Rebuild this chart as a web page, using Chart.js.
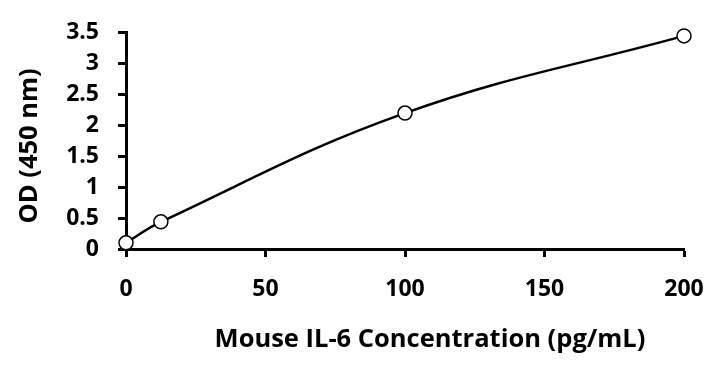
<!DOCTYPE html>
<html>
<head>
<meta charset="utf-8">
<script src="https://cdn.jsdelivr.net/npm/chart.js@4/dist/chart.umd.min.js"></script>
<style>
  html, body { margin: 0; padding: 0; background: #fff; }
  #wrap { position: relative; width: 725px; height: 366px; }
</style>
</head>
<body>
<div id="wrap"><canvas id="chart"></canvas></div>
<script>
// Standard curve
const concentrations = [0, 12.5, 100, 200];      // pg/mL
const odValues       = [0.1, 0.44, 2.2, 3.45];   // OD at 450 nm
const xTicks = [0, 50, 100, 150, 200];
const yTicks = [0, 0.5, 1, 1.5, 2, 2.5, 3, 3.5];
const X_TITLE = 'Mouse IL-6 Concentration (pg/mL)';
const Y_TITLE = 'OD (450 nm)';

const FONT = "'Open Sans', 'DejaVu Sans', sans-serif";

// axis titles drawn by hand: Excel puts the x title a bit right of the plot centre
const axisTitles = {
  id: 'axisTitles',
  afterDraw(chart) {
    const { ctx, chartArea: a } = chart;
    ctx.save();
    ctx.fillStyle = '#000';
    ctx.font = `bold 25.5px ${FONT}`;
    ctx.textAlign = 'center';
    ctx.textBaseline = 'middle';
    ctx.fillText(X_TITLE, (a.left + a.right) / 2 + 25, a.bottom + 91);
    ctx.translate(30, (a.top + a.bottom) / 2 + 5);
    ctx.rotate(-Math.PI / 2);
    ctx.fillText(Y_TITLE, 0, 0);
    ctx.restore();
  },
};

new Chart(document.getElementById('chart'), {
  type: 'scatter',
  data: {
    datasets: [{
      data: concentrations.map((x, i) => ({ x, y: odValues[i] })),
      showLine: true,
      borderColor: '#000',
      borderWidth: 2.5,
      tension: 0.4,
      pointRadius: 7,
      pointBackgroundColor: '#fff',
      pointBorderColor: '#000',
      pointBorderWidth: 1.5,
      clip: false,
    }],
  },
  options: {
    responsive: true,
    maintainAspectRatio: false,
    animation: false,
    layout: { padding: { left: 0, top: 31, right: 41, bottom: 0 } },
    plugins: { legend: { display: false }, tooltip: { enabled: false } },
    scales: {
      x: {
        type: 'linear',
        min: 0, max: 200,
        afterBuildTicks: (s) => { s.ticks = xTicks.map((v) => ({ value: v })); },
        afterFit: (s) => { s.height = 117; },
        border: { color: '#000', width: 3 },
        grid: { drawOnChartArea: false, drawTicks: true, tickLength: 8, tickWidth: 3, color: '#000' },
        ticks: { color: '#000', padding: 19, font: { family: FONT, size: 23, weight: 'bold' } },
      },
      y: {
        type: 'linear',
        min: 0, max: 3.5,
        afterBuildTicks: (s) => { s.ticks = yTicks.map((v) => ({ value: v })); },
        afterFit: (s) => { s.width = 126; },
        border: { color: '#000', width: 3 },
        grid: { drawOnChartArea: false, drawTicks: true, tickLength: 8, tickWidth: 3, color: '#000' },
        ticks: {
          color: '#000', padding: 19,
          font: { family: FONT, size: 23, weight: 'bold' },
          callback: (v) => String(v),
        },
      },
    },
  },
  plugins: [axisTitles],
});
</script>
</body>
</html>
